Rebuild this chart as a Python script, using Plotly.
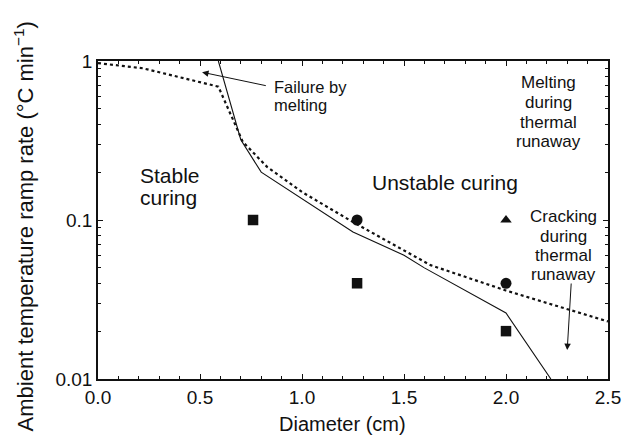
import numpy as np
import plotly.graph_objects as go

# Stability boundary curves: diameter (cm) vs ambient ramp rate (°C/min)
solid_diameter = [0.59, 0.70, 0.80, 1.14, 1.25, 1.50, 1.60, 2.00, 2.22]
solid_rate = [1.0, 0.32, 0.20, 0.103, 0.084, 0.060, 0.050, 0.026, 0.010]

dotted_diameter = [0.0, 0.22, 0.59, 0.71, 0.83, 1.00, 1.25, 1.63, 2.00, 2.50]
dotted_rate = [0.97, 0.90, 0.69, 0.31, 0.215, 0.15, 0.097, 0.052, 0.036, 0.023]

# Experimental outcomes
stable_diameter = [0.76, 1.27, 2.0]
stable_rate = [0.1, 0.04, 0.02]
unstable_diameter = [1.27, 2.0]
unstable_rate = [0.1, 0.04]
cracked_diameter = [2.0]
cracked_rate = [0.1]

x_ticks = [0.0, 0.5, 1.0, 1.5, 2.0, 2.5]
x_tick_labels = ["0.0", "0.5", "1.0", "1.5", "2.0", "2.5"]
y_ticks = [0.01, 0.1, 1]
y_tick_labels = ["0.01", "0.1", "1"]
y_minor = [m * 10.0 ** e for e in (-2, -1) for m in range(2, 10)]

FONT = "Liberation Sans, Arial, Helvetica, sans-serif"
BLACK = "#111111"

fig = go.Figure()
fig.add_trace(go.Scatter(x=solid_diameter, y=solid_rate, mode="lines",
                         line=dict(color=BLACK, width=1.1), showlegend=False))
fig.add_trace(go.Scatter(x=dotted_diameter, y=dotted_rate, mode="lines",
                         line=dict(color=BLACK, width=2.2, dash="3px,3px"),
                         showlegend=False))
fig.add_trace(go.Scatter(x=stable_diameter, y=stable_rate, mode="markers",
                         marker=dict(symbol="square", size=10.5, color=BLACK),
                         showlegend=False))
fig.add_trace(go.Scatter(x=unstable_diameter, y=unstable_rate, mode="markers",
                         marker=dict(symbol="circle", size=11, color=BLACK),
                         showlegend=False))
fig.add_trace(go.Scatter(x=cracked_diameter, y=cracked_rate, mode="markers",
                         marker=dict(symbol="triangle-up", size=10, color=BLACK),
                         showlegend=False))

annotations = []


def text_block(lines, x, y_top, size, anchor, spacing):
    """Place each line of a multi-line label separately (log10 y units)."""
    for i, line in enumerate(lines):
        annotations.append(dict(x=x, y=y_top - i * spacing, xref="x", yref="y",
                                text=line, showarrow=False, xanchor=anchor,
                                yanchor="middle",
                                font=dict(size=size, color=BLACK, family=FONT)))


px_per_decade = 159.0
text_block(["Failure by", "melting"], 0.853, -0.164, 16.5, "left", 18 / px_per_decade)
text_block(["Melting", "during", "thermal", "runaway"], 2.206, -0.138, 17, "center",
           19.6 / px_per_decade)
text_block(["Cracking", "during", "thermal", "runaway"], 2.28, -0.981, 17, "center",
           19.3 / px_per_decade)
text_block(["Unstable curing"], 1.70, -0.767, 21, "center", 0)
text_block(["Stable", "curing"], 0.196, -0.723, 21, "left", 22 / px_per_decade)

# Arrows pointing at the failure regions
for tip, tail in [((0.51, np.log10(0.85)), (0.83, -0.157)),
                  ((2.30, -1.818), (2.32, -1.39))]:
    annotations.append(dict(x=tip[0], y=tip[1], ax=tail[0], ay=tail[1],
                            xref="x", yref="y", axref="x", ayref="y",
                            text="", showarrow=True, arrowhead=2, arrowsize=1.3,
                            arrowwidth=1, arrowcolor=BLACK, standoff=0))

# Axis titles
annotations.append(dict(x=-0.145, y=0.48, xref="paper", yref="paper",
                        text="Ambient temperature ramp rate (°C min<sup>−1</sup>)",
                        textangle=-90, showarrow=False, xanchor="center",
                        yanchor="middle",
                        font=dict(size=22, color=BLACK, family=FONT)))
annotations.append(dict(x=0.48, y=-0.1415, xref="paper", yref="paper",
                        text="Diameter (cm)", showarrow=False, xanchor="center",
                        yanchor="middle",
                        font=dict(size=20, color=BLACK, family=FONT)))

fig.update_layout(
    width=623, height=439,
    margin=dict(l=98, r=15, t=61, b=60, autoexpand=False),
    paper_bgcolor="white", plot_bgcolor="white",
    font=dict(family=FONT, color=BLACK),
    annotations=annotations,
    xaxis=dict(
        range=[0, 2.5], tickvals=x_ticks, ticktext=x_tick_labels,
        ticks="inside", ticklen=5, tickwidth=1, tickcolor=BLACK,
        minor=dict(dtick=0.1, ticks="inside", ticklen=3, tickcolor=BLACK),
        showline=True, linecolor=BLACK, linewidth=1.5, mirror="ticks",
        showgrid=False, zeroline=False, automargin=False,
        tickfont=dict(size=19, color=BLACK, family=FONT),
    ),
    yaxis=dict(
        type="log", range=[-2, 0], tickvals=y_ticks, ticktext=y_tick_labels,
        ticks="inside", ticklen=5, tickwidth=1, tickcolor=BLACK,
        minor=dict(tickvals=y_minor, ticks="inside", ticklen=3, tickcolor=BLACK),
        showline=True, linecolor=BLACK, linewidth=1.5, mirror="ticks",
        showgrid=False, zeroline=False, automargin=False,
        tickfont=dict(size=19, color=BLACK, family=FONT),
    ),
)

fig.write_html("out.html")
